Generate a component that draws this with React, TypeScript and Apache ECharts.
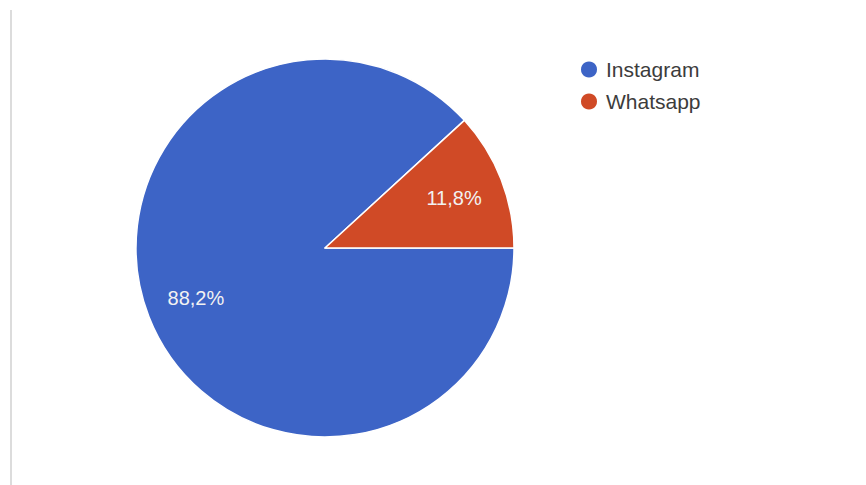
import React, { useEffect, useRef } from "react";
import * as echarts from "echarts";

const categories = ["Instagram", "Whatsapp"];
const values = [88.2, 11.8];
const colors = ["#3d64c6", "#d04a26"];

export default function App() {
  const ref = useRef<HTMLDivElement>(null);
  useEffect(() => {
    const chart = echarts.init(ref.current!, null, { renderer: "svg" });
    const data = categories.map((name, i) => ({ name, value: values[i], itemStyle: { color: colors[i] } }));
    chart.setOption({
      animation: false,
      backgroundColor: "#ffffff",
      legend: {
        orient: "vertical",
        left: 574,
        top: 54,
        icon: "circle",
        itemWidth: 18,
        itemHeight: 18,
        itemGap: 11,
        data: categories,
        textStyle: { fontFamily: "Liberation Sans, Arial, sans-serif", fontSize: 21, color: "#3c3c3c", padding: [0, 0, 0, 3] },
      },
      graphic: [
        { type: "line", shape: { x1: 11, y1: 10, x2: 11, y2: 485 }, style: { stroke: "#dcdcdc", lineWidth: 2 } },
      ],
      series: [
        {
          type: "pie",
          center: [325, 248],
          radius: [0, 189],
          startAngle: 0,
          clockwise: true,
          data,
          label: { show: false },
          labelLine: { show: false },
          itemStyle: { borderColor: "#ffffff", borderWidth: 1.5 },
          silent: true,
        },
        {
          type: "pie",
          center: [325, 248],
          radius: [82, 189],
          startAngle: 0,
          clockwise: true,
          data: categories.map((name, i) => ({ name, value: values[i] })),
          itemStyle: { color: "transparent" },
          label: {
            show: true,
            position: "inside",
            formatter: (p: any) => p.value.toFixed(1).replace(".", ",") + "%",
            color: "#f2f2f2",
            fontSize: 20,
            fontFamily: "Liberation Sans, Arial, sans-serif",
          },
          labelLine: { show: false },
          silent: true,
          legendHoverLink: false,
        },
      ],
    });
    return () => chart.dispose();
  }, []);
  return <div ref={ref} style={{ position: "fixed", left: 0, top: 0, width: 866, height: 485 }} />;
}
